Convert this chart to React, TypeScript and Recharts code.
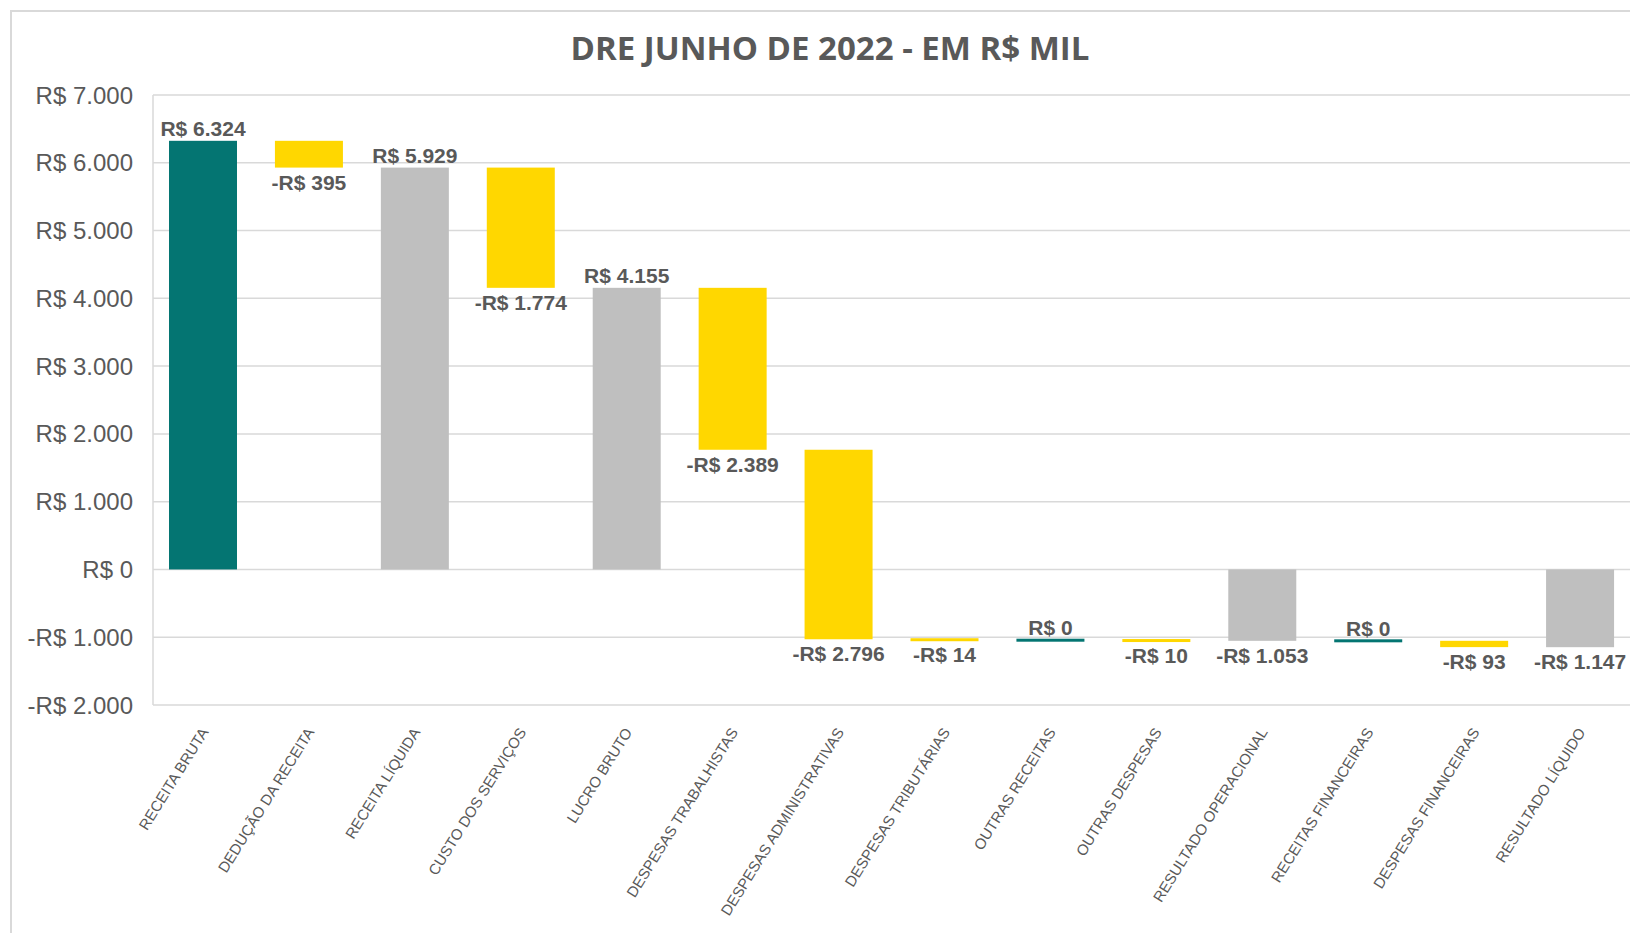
import { BarChart, Bar, XAxis, YAxis, CartesianGrid } from 'recharts';

const categories = [
  'RECEITA BRUTA',
  'DEDUÇÃO DA RECEITA',
  'RECEITA LÍQUIDA',
  'CUSTO DOS SERVIÇOS',
  'LUCRO BRUTO',
  'DESPESAS TRABALHISTAS',
  'DESPESAS ADMINISTRATIVAS',
  'DESPESAS TRIBUTÁRIAS',
  'OUTRAS RECEITAS',
  'OUTRAS DESPESAS',
  'RESULTADO OPERACIONAL',
  'RECEITAS FINANCEIRAS',
  'DESPESAS FINANCEIRAS',
  'RESULTADO LÍQUIDO',
];
const amounts = [6324, -395, 5929, -1774, 4155, -2389, -2796, -14, 0, -10, -1053, 0, -93, -1147];
// up = increase, down = decrease, total = subtotal column
const kinds = ['up', 'down', 'total', 'down', 'total', 'down', 'down', 'down', 'up', 'down', 'total', 'up', 'down', 'total'];
const yTicks = [-2000, -1000, 0, 1000, 2000, 3000, 4000, 5000, 6000, 7000];

const colors: Record<string, string> = { up: '#047572', down: '#FFD700', total: '#BFBFBF' };
const textColor = '#595959';
const font = '"Liberation Sans", Arial, sans-serif';

const fmt = (v: number) => {
  const s = String(Math.abs(v)).replace(/\B(?=(\d{3})+(?!\d))/g, '.');
  return (v < 0 ? '-' : '') + 'R$ ' + s;
};

let running = 0;
const data = categories.map((name, i) => {
  const v = amounts[i];
  let lo: number, hi: number;
  if (kinds[i] === 'total') {
    lo = Math.min(0, v);
    hi = Math.max(0, v);
    running = v;
  } else {
    const start = running;
    running = start + v;
    lo = Math.min(start, running);
    hi = Math.max(start, running);
  }
  return { name, value: v, kind: kinds[i], range: [lo, hi] };
});

function WaterfallBar(props: any) {
  const { x, y, width, height, payload } = props;
  let h = Math.abs(height);
  let top = y;
  if (h < 3) {
    top = y + h / 2 - 1.5;
    h = 3;
  }
  const cx = x + width / 2;
  const neg = payload.value < 0;
  const ly = neg ? y + Math.abs(height) + 22 : y - 5;
  return (
    <g>
      <rect x={x} y={top} width={width} height={h} fill={colors[payload.kind]} />
      <text
        x={cx}
        y={ly}
        textAnchor="middle"
        fontFamily={font}
        fontSize={21}
        fontWeight="bold"
        fill={textColor}
      >
        {fmt(payload.value)}
      </text>
    </g>
  );
}

function CategoryTick(props: any) {
  const { x, y, payload } = props;
  const ax = x + 6;
  const ay = y + 19;
  return (
    <text
      x={ax}
      y={ay}
      transform={`rotate(-58, ${ax}, ${ay})`}
      textAnchor="end"
      fontFamily={font}
      fontSize={15}
      fill={textColor}
    >
      {payload.value}
    </text>
  );
}

export default function App() {
  return (
    <div
      style={{
        position: 'fixed',
        left: 0,
        top: 0,
        width: 1630,
        height: 933,
        overflow: 'hidden',
        background: '#fff',
      }}
    >
      <div
        style={{
          position: 'absolute',
          left: 10,
          top: 10,
          width: 1700,
          height: 1000,
          border: '2px solid #D9D9D9',
        }}
      />
      <div
        style={{
          position: 'absolute',
          left: 830,
          top: 28,
          transform: 'translateX(-50%)',
          whiteSpace: 'nowrap',
          fontFamily: '"Open Sans", sans-serif',
          fontWeight: 700,
          fontSize: 33,
          color: textColor,
          lineHeight: '40px',
        }}
      >
        DRE JUNHO DE 2022 - EM R$ MIL
      </div>
      <div style={{ position: 'absolute', left: 0, top: 0 }}>
        <BarChart
          width={1660}
          height={933}
          data={data}
          margin={{ top: 95, right: 24, bottom: 28, left: 0 }}
          barSize={68}
        >
          <CartesianGrid vertical={false} stroke="#D9D9D9" strokeWidth={1.5} />
          <XAxis
            dataKey="name"
            interval={0}
            height={200}
            tickLine={false}
            axisLine={false}
            padding={{ left: -3, right: 3 }}
            tick={<CategoryTick />}
          />
          <YAxis
            domain={[-2000, 7000]}
            ticks={yTicks}
            interval={0}
            width={153}
            tickLine={false}
            tickSize={0}
            tickMargin={20}
            axisLine={{ stroke: '#D9D9D9', strokeWidth: 1.5 }}
            tickFormatter={fmt}
            tick={{ fontFamily: font, fontSize: 24, fill: textColor }}
          />
          <Bar dataKey="range" isAnimationActive={false} shape={(p: any) => <WaterfallBar {...p} />} />
        </BarChart>
      </div>
    </div>
  );
}
